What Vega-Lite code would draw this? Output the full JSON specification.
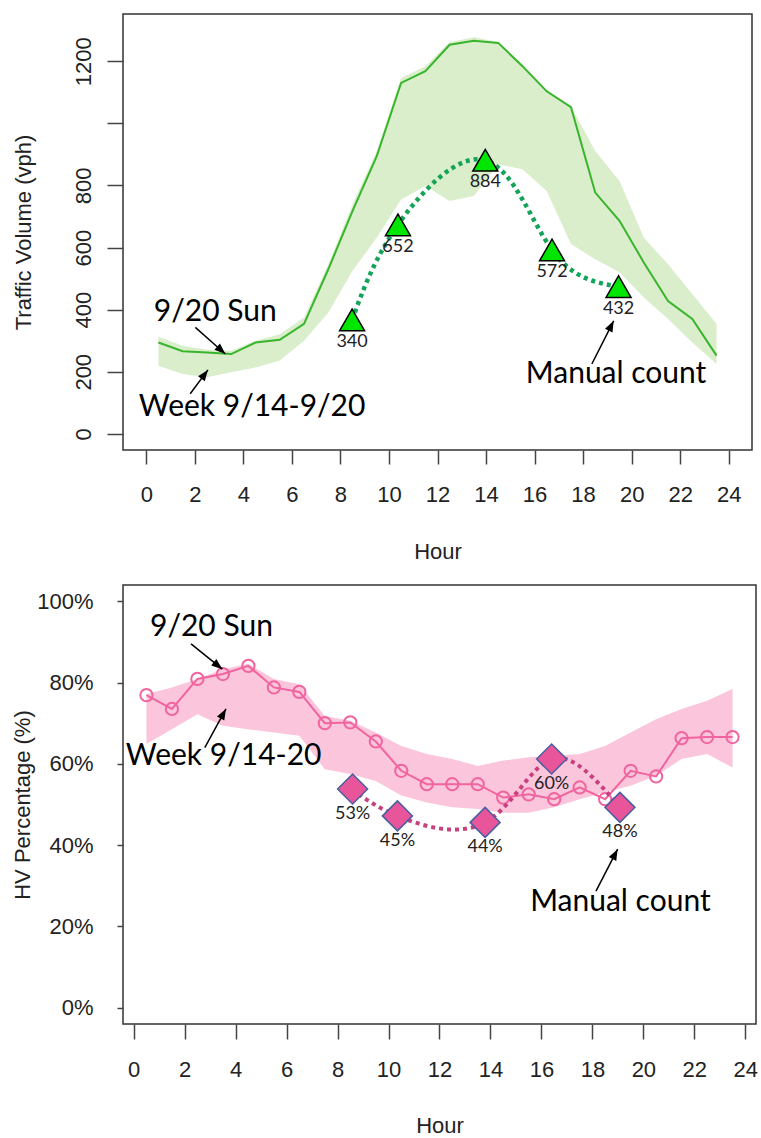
{
  "$schema": "https://vega.github.io/schema/vega-lite/v6.json",
  "background": "white",
  "padding": {"left": 10, "top": 13, "right": 0, "bottom": 0},
  "spacing": 21,
  "config": {
    "view": {"stroke": "#333", "strokeWidth": 1.5},
    "axis": {"labelFont": "Liberation Sans", "titleFont": "Liberation Sans", "labelFontSize": 22, "titleFontSize": 22, "titleFontWeight": "normal", "labelColor": "#222", "titleColor": "#222", "tickColor": "#444", "tickWidth": 1.5, "domain": false, "grid": false, "labelOverlap": false, "labelFlush": false},
    "text": {"font": "Lato"}
  },
  "datasets": {
    "vol": [
      {"hour": 0.5, "sun": 294, "lo": 219, "hi": 313},
      {"hour": 1.5, "sun": 266, "lo": 193, "hi": 284},
      {"hour": 2.5, "sun": 262, "lo": 182, "hi": 271},
      {"hour": 3.5, "sun": 257, "lo": 198, "hi": 268},
      {"hour": 4.5, "sun": 294, "lo": 214, "hi": 300},
      {"hour": 5.5, "sun": 303, "lo": 236, "hi": 321},
      {"hour": 6.5, "sun": 354, "lo": 300, "hi": 375},
      {"hour": 7.5, "sun": 530, "lo": 391, "hi": 546},
      {"hour": 8.5, "sun": 718, "lo": 525, "hi": 739},
      {"hour": 9.5, "sun": 895, "lo": 632, "hi": 911},
      {"hour": 10.5, "sun": 1130, "lo": 755, "hi": 1146},
      {"hour": 11.5, "sun": 1168, "lo": 798, "hi": 1184},
      {"hour": 12.5, "sun": 1253, "lo": 750, "hi": 1262},
      {"hour": 13.5, "sun": 1266, "lo": 766, "hi": 1277},
      {"hour": 14.5, "sun": 1259, "lo": 868, "hi": 1262},
      {"hour": 15.5, "sun": 1184, "lo": 852, "hi": 1190},
      {"hour": 16.5, "sun": 1103, "lo": 782, "hi": 1108},
      {"hour": 17.5, "sun": 1052, "lo": 611, "hi": 1055},
      {"hour": 18.5, "sun": 777, "lo": 562, "hi": 911},
      {"hour": 19.5, "sun": 686, "lo": 520, "hi": 814},
      {"hour": 20.5, "sun": 552, "lo": 439, "hi": 632},
      {"hour": 21.5, "sun": 428, "lo": 370, "hi": 546},
      {"hour": 22.5, "sun": 370, "lo": 294, "hi": 450},
      {"hour": 23.5, "sun": 252, "lo": 225, "hi": 354}
    ],
    "volManual": [
      {"hour": 8.48, "vol": 367, "label": "340"},
      {"hour": 10.37, "vol": 673, "label": "652"},
      {"hour": 13.97, "vol": 881, "label": "884"},
      {"hour": 16.72, "vol": 592, "label": "572"},
      {"hour": 19.46, "vol": 474, "label": "432"}
    ],
    "volNotes": [
      {"hour": 2.84, "vol": 364, "text": "9/20 Sun"},
      {"hour": 4.36, "vol": 59, "text": "Week 9/14-9/20"},
      {"hour": 19.36, "vol": 163, "text": "Manual count"}
    ],
    "volArrows": [
      {"hour": 2.02, "vol": 343, "hour2": 3.26, "vol2": 257, "angle": 131.6},
      {"hour": 1.81, "vol": 129, "hour2": 2.54, "vol2": 206, "angle": 36.4},
      {"hour": 18.36, "vol": 225, "hour2": 19.26, "vol2": 364, "angle": 26.6}
    ],
    "hv": [
      {"hour": 0.5, "sun": 76.9, "lo": 64.9, "hi": 77.2},
      {"hour": 1.5, "sun": 73.5, "lo": 68.5, "hi": 78.8},
      {"hour": 2.5, "sun": 80.9, "lo": 72.2, "hi": 80.9},
      {"hour": 3.5, "sun": 82.1, "lo": 69.4, "hi": 83.3},
      {"hour": 4.5, "sun": 84.1, "lo": 68.5, "hi": 84.6},
      {"hour": 5.5, "sun": 78.8, "lo": 67.7, "hi": 80.9},
      {"hour": 6.5, "sun": 77.7, "lo": 66.9, "hi": 79.6},
      {"hour": 7.5, "sun": 70.0, "lo": 58.7, "hi": 71.8},
      {"hour": 8.5, "sun": 70.2, "lo": 57.5, "hi": 70.6},
      {"hour": 9.5, "sun": 65.5, "lo": 55.8, "hi": 67.7},
      {"hour": 10.5, "sun": 58.3, "lo": 52.2, "hi": 64.4},
      {"hour": 11.5, "sun": 55.0, "lo": 50.5, "hi": 62.4},
      {"hour": 12.5, "sun": 55.0, "lo": 49.3, "hi": 61.2},
      {"hour": 13.5, "sun": 55.0, "lo": 48.9, "hi": 59.5},
      {"hour": 14.5, "sun": 51.7, "lo": 48.0, "hi": 60.8},
      {"hour": 15.5, "sun": 52.5, "lo": 48.0, "hi": 61.6},
      {"hour": 16.5, "sun": 51.3, "lo": 49.3, "hi": 62.0},
      {"hour": 17.5, "sun": 54.2, "lo": 51.3, "hi": 62.4},
      {"hour": 18.5, "sun": 51.3, "lo": 53.0, "hi": 64.4},
      {"hour": 19.5, "sun": 58.3, "lo": 54.6, "hi": 67.7},
      {"hour": 20.5, "sun": 56.9, "lo": 57.1, "hi": 71.0},
      {"hour": 21.5, "sun": 66.3, "lo": 61.2, "hi": 73.5},
      {"hour": 22.5, "sun": 66.6, "lo": 62.4, "hi": 75.5},
      {"hour": 23.5, "sun": 66.6, "lo": 59.1, "hi": 78.4}
    ],
    "hvManual": [
      {"hour": 8.59, "pct": 53.8, "label": "53%"},
      {"hour": 10.35, "pct": 47.2, "label": "45%"},
      {"hour": 13.79, "pct": 45.6, "label": "44%"},
      {"hour": 16.4, "pct": 61.2, "label": "60%"},
      {"hour": 19.08, "pct": 49.3, "label": "48%"}
    ],
    "hvNotes": [
      {"hour": 3.05, "pct": 91.5, "text": "9/20 Sun"},
      {"hour": 3.53, "pct": 59.7, "text": "Week 9/14-20"},
      {"hour": 19.1, "pct": 23.8, "text": "Manual count"}
    ],
    "hvArrows": [
      {"hour": 2.25, "pct": 89.5, "hour2": 3.48, "pct2": 83.3, "angle": 128.5},
      {"hour": 2.79, "pct": 64.0, "hour2": 3.62, "pct2": 73.5, "angle": 29},
      {"hour": 18.14, "pct": 28.7, "hour2": 18.99, "pct2": 39.0, "angle": 27.6}
    ]
  },
  "vconcat": [
    {
      "width": 629,
      "height": 436,
      "layer": [
        {
          "data": {"name": "vol"},
          "mark": {"type": "area", "color": "#daeecb"},
          "encoding": {
            "x": {"field": "hour", "type": "quantitative", "title": "Hour",
              "scale": {"domain": [-0.96, 24.96], "nice": false, "zero": false},
              "axis": {"values": [0,1,2,3,4,5,6,7,8,9,10,11,12,13,14,15,16,17,18,19,20,21,22,23,24], "labelExpr": "datum.value % 2 === 0 ? datum.label : ''", "tickSize": 14, "labelPadding": 20, "titleY": 91, "titleBaseline": "top"}},
            "y": {"field": "lo", "type": "quantitative", "title": "Traffic Volume (vph)",
              "scale": {"domain": [-52, 1352], "nice": false, "zero": false},
              "axis": {"values": [0,200,400,600,800,1000,1200], "format": "d", "labelExpr": "datum.value === 1000 ? '' : datum.label", "labelAngle": -90, "labelAlign": "center", "labelBaseline": "alphabetic", "tickSize": 16, "labelPadding": 17, "titleX": -100, "titleY": 218, "titleAngle": -90, "titleAlign": "center", "titleBaseline": "middle"}},
            "y2": {"field": "hi"}
          }
        },
        {
          "data": {"name": "vol"},
          "mark": {"type": "line", "color": "#38b52c", "strokeWidth": 2},
          "encoding": {
            "x": {"field": "hour", "type": "quantitative", "title": "Hour"},
            "y": {"field": "sun", "type": "quantitative", "title": "Traffic Volume (vph)"}
          }
        },
        {
          "data": {"name": "volManual"},
          "mark": {"type": "line", "color": "#14a35a", "strokeWidth": 4.5, "strokeDash": [4, 4], "interpolate": "natural"},
          "encoding": {
            "x": {"field": "hour", "type": "quantitative", "title": "Hour"},
            "y": {"field": "vol", "type": "quantitative", "title": "Traffic Volume (vph)"}
          }
        },
        {
          "data": {"name": "volManual"},
          "mark": {"type": "point", "shape": "triangle-up", "size": 625, "filled": true, "fill": "#00e600", "stroke": "black", "strokeWidth": 1.5, "opacity": 1},
          "encoding": {
            "x": {"field": "hour", "type": "quantitative", "title": "Hour"},
            "y": {"field": "vol", "type": "quantitative", "title": "Traffic Volume (vph)"}
          }
        },
        {
          "data": {"name": "volManual"},
          "mark": {"type": "text", "dy": 22, "baseline": "middle", "fontSize": 18, "color": "#222"},
          "encoding": {
            "x": {"field": "hour", "type": "quantitative", "title": "Hour"},
            "y": {"field": "vol", "type": "quantitative", "title": "Traffic Volume (vph)"},
            "text": {"field": "label"}
          }
        },
        {
          "data": {"name": "volNotes"},
          "mark": {"type": "text", "fontSize": 30, "align": "center", "baseline": "alphabetic", "color": "black"},
          "encoding": {
            "x": {"field": "hour", "type": "quantitative", "title": "Hour"},
            "y": {"field": "vol", "type": "quantitative", "title": "Traffic Volume (vph)"},
            "text": {"field": "text"}
          }
        },
        {
          "data": {"name": "volArrows"},
          "mark": {"type": "rule", "color": "black", "strokeWidth": 1.5},
          "encoding": {
            "x": {"field": "hour", "type": "quantitative", "title": "Hour"},
            "y": {"field": "vol", "type": "quantitative", "title": "Traffic Volume (vph)"},
            "x2": {"field": "hour2"},
            "y2": {"field": "vol2"}
          }
        },
        {
          "data": {"name": "volArrows"},
          "mark": {"type": "point", "shape": "M0,0L-0.38,1L0.38,1Z", "size": 484, "filled": true, "color": "black", "opacity": 1},
          "encoding": {
            "x": {"field": "hour2", "type": "quantitative", "title": "Hour"},
            "y": {"field": "vol2", "type": "quantitative", "title": "Traffic Volume (vph)"},
            "angle": {"field": "angle", "type": "quantitative", "scale": null}
          }
        }
      ]
    },
    {
      "width": 633,
      "height": 439,
      "layer": [
        {
          "data": {"name": "hv"},
          "mark": {"type": "area", "color": "#fbc5dc"},
          "encoding": {
            "x": {"field": "hour", "type": "quantitative", "title": "Hour",
              "scale": {"domain": [-0.42, 24.42], "nice": false, "zero": false},
              "axis": {"values": [0,1,2,3,4,5,6,7,8,9,10,11,12,13,14,15,16,17,18,19,20,21,22,23,24], "labelExpr": "datum.value % 2 === 0 ? datum.label : ''", "tickSize": 15, "labelPadding": 20, "titleY": 91, "titleBaseline": "top"}},
            "y": {"field": "lo", "type": "quantitative", "title": "HV Percentage (%)",
              "scale": {"domain": [-4, 104], "nice": false, "zero": false},
              "axis": {"values": [0,20,40,60,80,100], "labelExpr": "datum.value + '%'", "labelBaseline": "middle", "tickSize": 6, "labelPadding": 24, "titleX": -101, "titleY": 219.5, "titleAngle": -90, "titleAlign": "center", "titleBaseline": "middle"}},
            "y2": {"field": "hi"}
          }
        },
        {
          "data": {"name": "hv"},
          "mark": {"type": "line", "color": "#f0649f", "strokeWidth": 2},
          "encoding": {
            "x": {"field": "hour", "type": "quantitative", "title": "Hour"},
            "y": {"field": "sun", "type": "quantitative", "title": "HV Percentage (%)"}
          }
        },
        {
          "data": {"name": "hv"},
          "mark": {"type": "point", "shape": "circle", "size": 150, "filled": false, "stroke": "#f0649f", "strokeWidth": 2, "opacity": 1},
          "encoding": {
            "x": {"field": "hour", "type": "quantitative", "title": "Hour"},
            "y": {"field": "sun", "type": "quantitative", "title": "HV Percentage (%)"}
          }
        },
        {
          "data": {"name": "hvManual"},
          "mark": {"type": "line", "color": "#c8407f", "strokeWidth": 4, "strokeDash": [4, 4], "interpolate": "natural"},
          "encoding": {
            "x": {"field": "hour", "type": "quantitative", "title": "Hour"},
            "y": {"field": "pct", "type": "quantitative", "title": "HV Percentage (%)"}
          }
        },
        {
          "data": {"name": "hvManual"},
          "mark": {"type": "point", "shape": "diamond", "size": 900, "filled": true, "fill": "#e8559a", "stroke": "#4a5fa0", "strokeWidth": 1.5, "opacity": 1},
          "encoding": {
            "x": {"field": "hour", "type": "quantitative", "title": "Hour"},
            "y": {"field": "pct", "type": "quantitative", "title": "HV Percentage (%)"}
          }
        },
        {
          "data": {"name": "hvManual"},
          "mark": {"type": "text", "dy": 25, "baseline": "middle", "fontSize": 18, "color": "#222"},
          "encoding": {
            "x": {"field": "hour", "type": "quantitative", "title": "Hour"},
            "y": {"field": "pct", "type": "quantitative", "title": "HV Percentage (%)"},
            "text": {"field": "label"}
          }
        },
        {
          "data": {"name": "hvNotes"},
          "mark": {"type": "text", "fontSize": 30, "align": "center", "baseline": "alphabetic", "color": "black"},
          "encoding": {
            "x": {"field": "hour", "type": "quantitative", "title": "Hour"},
            "y": {"field": "pct", "type": "quantitative", "title": "HV Percentage (%)"},
            "text": {"field": "text"}
          }
        },
        {
          "data": {"name": "hvArrows"},
          "mark": {"type": "rule", "color": "black", "strokeWidth": 1.5},
          "encoding": {
            "x": {"field": "hour", "type": "quantitative", "title": "Hour"},
            "y": {"field": "pct", "type": "quantitative", "title": "HV Percentage (%)"},
            "x2": {"field": "hour2"},
            "y2": {"field": "pct2"}
          }
        },
        {
          "data": {"name": "hvArrows"},
          "mark": {"type": "point", "shape": "M0,0L-0.38,1L0.38,1Z", "size": 484, "filled": true, "color": "black", "opacity": 1},
          "encoding": {
            "x": {"field": "hour2", "type": "quantitative", "title": "Hour"},
            "y": {"field": "pct2", "type": "quantitative", "title": "HV Percentage (%)"},
            "angle": {"field": "angle", "type": "quantitative", "scale": null}
          }
        }
      ]
    }
  ]
}
